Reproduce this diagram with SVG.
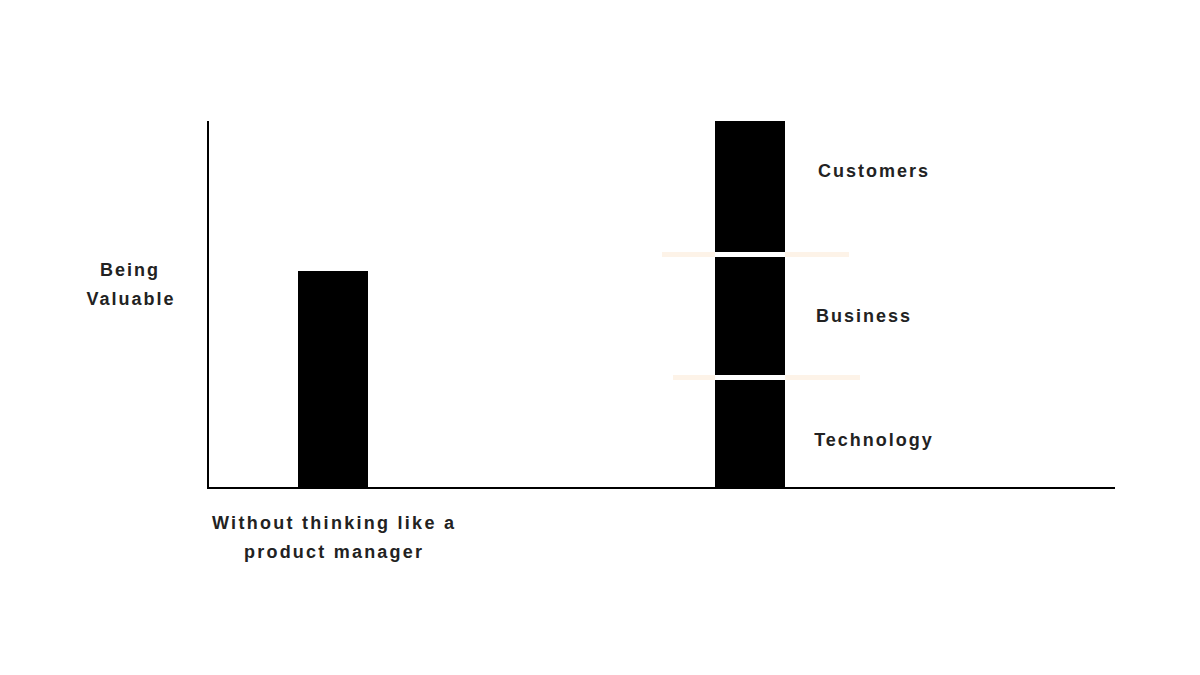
<svg xmlns="http://www.w3.org/2000/svg" width="1200" height="675" viewBox="0 0 1200 675">
<style>
.t{font-family:"Liberation Sans",Arial,sans-serif;font-weight:bold;font-size:18px;fill:#222;letter-spacing:2px}
.bar{fill:#000}
.sep{fill:#fdf3e8}
.gap{fill:#fff}
</style>
<rect width="1200" height="675" fill="#fff"/>
<g id="axes" stroke="#000" stroke-width="2" fill="none">
<line x1="208" y1="121" x2="208" y2="489"/>
<line x1="207" y1="488" x2="1115" y2="488"/>
</g>
<g id="bar-left"><rect class="bar" x="298" y="271" width="70" height="217"/></g>
<g id="bar-right">
<rect class="bar" x="715" y="121" width="70" height="367"/>
<rect class="sep" x="662" y="252" width="187" height="5"/>
<rect class="gap" x="715" y="252" width="70" height="5"/>
<rect class="sep" x="673" y="375" width="187" height="5"/>
<rect class="gap" x="715" y="375" width="70" height="5"/>
</g>
<g id="labels">
<text class="t" x="130" y="276" text-anchor="middle">Being</text>
<text class="t" x="131" y="305" text-anchor="middle">Valuable</text>
<text class="t" x="874" y="177" text-anchor="middle">Customers</text>
<text class="t" x="864" y="322" text-anchor="middle">Business</text>
<text class="t" x="874" y="446" text-anchor="middle">Technology</text>
<text class="t" x="334" y="529" text-anchor="middle" textLength="244">Without thinking like a</text>
<text class="t" x="334" y="558" text-anchor="middle" textLength="180">product manager</text>
</g>
</svg>
